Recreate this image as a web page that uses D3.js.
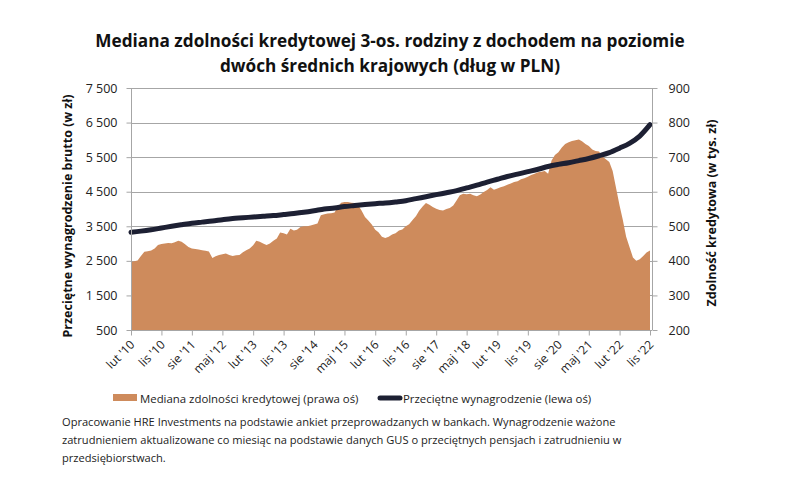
<!DOCTYPE html>
<html>
<head>
<meta charset="utf-8">
<script src="https://cdn.jsdelivr.net/npm/d3@7"></script>
<style>
    body { margin: 0; background: #fff; }
    text { font-family: "Open Sans", "Noto Sans", sans-serif; }
</style>
</head>
<body>
<div id="chart"></div>
<script>
//monthly data starts in February 2010
var startMonth = new Date(2010, 1, 1);

//median credit capacity, thousands PLN (right axis), monthly
var capacity = [
    397, 399, 401, 414, 426, 428, 430, 436, 446, 449,
    450, 452, 451, 454, 458, 455, 448, 440, 436, 434,
    433, 431, 429, 427, 408, 413, 417, 419, 421, 417,
    414, 416, 417, 425, 431, 436, 445, 458, 455, 450,
    446, 450, 458, 465, 482, 480, 476, 493, 488, 490,
    498, 500, 500, 502, 505, 508, 532, 535, 537, 538,
    540, 556, 568, 570, 570, 568, 567, 561, 546, 527,
    517, 505, 490, 483, 470, 466, 470, 476, 480, 488,
    491, 500, 506, 518, 530, 545, 557, 567, 562, 556,
    551, 547, 546, 550, 553, 560, 575, 590, 594, 593,
    594, 590, 587, 592, 599, 605, 613, 606, 609, 613,
    616, 620, 624, 628, 630, 636, 639, 643, 648, 652,
    656, 658, 660, 652, 690, 706, 714, 728, 738, 743,
    747, 749, 751, 746, 738, 732, 722, 718, 716, 702,
    694, 686, 660, 610, 560, 520, 470, 440, 410, 400,
    405, 414, 424, 430
];

//average gross wage, PLN (left axis), read every 3 months
var wageMonths = [
    0, 3, 6, 9, 12, 15, 18, 21, 24, 27, 30, 33, 36, 39, 42, 45, 48, 51,
    54, 57, 60, 63, 66, 69, 72, 75, 78, 81, 84, 87, 90, 93, 96, 99, 102, 105,
    108, 111, 114, 117, 120, 123, 126, 129, 132, 135, 138, 141, 144, 147, 150, 153
];
var wage = [
    3330, 3360, 3400, 3450, 3500, 3545, 3590, 3620, 3650, 3690, 3725, 3745,
    3770, 3790, 3810, 3840, 3870, 3905, 3950, 4000, 4030, 4070, 4100, 4130,
    4155, 4175, 4205, 4240, 4300, 4355, 4415, 4470, 4530, 4610, 4690, 4780,
    4860, 4940, 5010, 5080, 5150, 5230, 5290, 5340, 5400, 5460, 5540, 5630,
    5760, 5900, 6110, 6440
];

//x tick labels (every 9 months)
var tickLabels = ["lut '10", "lis '10", "sie '11", "maj '12", "lut '13", "lis '13",
    "sie '14", "maj '15", "lut '16", "lis '16", "sie '17", "maj '18", "lut '19",
    "lis '19", "sie '20", "maj '21", "lut '22", "lis '22"];

var leftTicks = [500, 1500, 2500, 3500, 4500, 5500, 6500, 7500];
var rightTicks = [200, 300, 400, 500, 600, 700, 800, 900];

var titleLines = ["Mediana zdolności kredytowej 3-os. rodziny z dochodem na poziomie",
    "dwóch średnich krajowych (dług w PLN)"];
var noteLines = [
    "Opracowanie HRE Investments na podstawie ankiet przeprowadzanych w bankach. Wynagrodzenie ważone",
    "zatrudnieniem aktualizowane co miesiąc na podstawie danych GUS o przeciętnych pensjach i zatrudnieniu w",
    "przedsiębiorstwach."
];

//svg and plot dimensions
var svgWidth = 796;
var svgHeight = 481;
var plot = { left: 131, right: 652, top: 88, bottom: 330 };

var svg = d3.select("#chart").append("svg")
    .attr("width", svgWidth)
    .attr("height", svgHeight);

function monthDate(i) {
    return d3.timeMonth.offset(startMonth, i);
}

//scales
var xScale = d3.scaleTime()
    .domain([monthDate(0), monthDate(capacity.length - 1)])
    .range([plot.left, plot.right - 2]);

var yLeft = d3.scaleLinear().domain([500, 7500]).range([plot.bottom, plot.top]);
var yRight = d3.scaleLinear().domain([200, 900]).range([plot.bottom, plot.top]);

//title
svg.append("g").selectAll("text")
    .data(titleLines)
    .enter()
    .append("text")
    .attr("x", 390)
    .attr("y", (d, i) => 47 + i * 25)
    .attr("text-anchor", "middle")
    .attr("font-size", "17.2px")
    .attr("font-weight", "bold")
    .attr("fill", "#111")
    .text(d => d);

//gridlines
svg.append("g").selectAll("line")
    .data(leftTicks)
    .enter()
    .append("line")
    .attr("x1", plot.left)
    .attr("x2", plot.right)
    .attr("y1", d => Math.round(yLeft(d)) + 0.5)
    .attr("y2", d => Math.round(yLeft(d)) + 0.5)
    .attr("stroke", "#a6a6a6")
    .attr("stroke-width", 1);

//area for credit capacity
var area = d3.area()
    .x((d, i) => xScale(monthDate(i)))
    .y0(yRight(200))
    .y1(d => yRight(d));

svg.append("path")
    .datum(capacity)
    .attr("d", area)
    .attr("fill", "#ce8b5c");

//wage line
var line = d3.line()
    .curve(d3.curveMonotoneX)
    .x((d, i) => xScale(monthDate(wageMonths[i])))
    .y(d => yLeft(d));

svg.append("path")
    .datum(wage)
    .attr("d", line)
    .attr("fill", "none")
    .attr("stroke", "#1d2033")
    .attr("stroke-width", 5)
    .attr("stroke-linecap", "round");

//left axis
var leftAxis = d3.axisLeft(yLeft)
    .tickValues(leftTicks)
    .tickSize(5)
    .tickPadding(9)
    .tickFormat(d => d3.format(",")(d).replace(",", " "));

var gLeft = svg.append("g")
    .attr("transform", `translate(${plot.left + 0.5}, 0)`)
    .call(leftAxis);

//right axis
var rightAxis = d3.axisRight(yRight)
    .tickValues(rightTicks)
    .tickSize(5)
    .tickPadding(11);

var gRight = svg.append("g")
    .attr("transform", `translate(${plot.right + 0.5}, 0)`)
    .call(rightAxis);

//bottom axis
var tickDates = tickLabels.map((d, i) => monthDate(i * 9));
var bottomAxis = d3.axisBottom(xScale)
    .tickValues(tickDates)
    .tickSize(5)
    .tickFormat((d, i) => tickLabels[i]);

var gBottom = svg.append("g")
    .attr("transform", `translate(0, ${plot.bottom + 0.5})`)
    .call(bottomAxis);

//style all axes
[gLeft, gRight, gBottom].forEach(function(g) {
    g.select(".domain").attr("stroke", "#a6a6a6");
    g.selectAll(".tick line").attr("stroke", "#a6a6a6");
    g.selectAll("text")
        .attr("font-family", "'Open Sans', sans-serif")
        .attr("font-size", "12.5px")
        .attr("fill", "#222");
});
gLeft.select(".domain").attr("d", `M0,${plot.top}V${plot.bottom}`);
gRight.select(".domain").attr("d", `M0,${plot.top}V${plot.bottom}`);
gBottom.select(".domain").attr("d", `M${plot.left},0H${plot.right}`);

//rotated month labels, ending just under each tick
gBottom.selectAll("text")
    .attr("text-anchor", "end")
    .attr("x", 0)
    .attr("y", 0)
    .attr("dy", "0.35em")
    .attr("font-size", "12px")
    .attr("transform", "translate(1, 12) rotate(-45)");

//axis titles
svg.append("text")
    .attr("transform", "translate(72, 216) rotate(-90)")
    .attr("text-anchor", "middle")
    .attr("font-size", "12.5px")
    .attr("font-weight", "bold")
    .attr("fill", "#111")
    .text("Przeciętne wynagrodzenie brutto (w zł)");

svg.append("text")
    .attr("transform", "translate(716, 213) rotate(-90)")
    .attr("text-anchor", "middle")
    .attr("font-size", "12.5px")
    .attr("font-weight", "bold")
    .attr("fill", "#111")
    .text("Zdolność kredytowa (w tys. zł)");

//legend
var legend = svg.append("g").attr("transform", "translate(0, 398)");

legend.append("rect")
    .attr("x", 113)
    .attr("y", -4)
    .attr("width", 24)
    .attr("height", 7)
    .attr("fill", "#ce8b5c");

legend.append("text")
    .attr("x", 140)
    .attr("y", 4.5)
    .attr("font-size", "11.4px")
    .attr("fill", "#222")
    .text("Mediana zdolności kredytowej (prawa oś)");

legend.append("line")
    .attr("x1", 380)
    .attr("x2", 400)
    .attr("y1", 0)
    .attr("y2", 0)
    .attr("stroke", "#1d2033")
    .attr("stroke-width", 5)
    .attr("stroke-linecap", "round");

legend.append("text")
    .attr("x", 403)
    .attr("y", 4.5)
    .attr("font-size", "11.4px")
    .attr("fill", "#222")
    .text("Przeciętne wynagrodzenie (lewa oś)");

//footnote
svg.append("g").selectAll("text")
    .data(noteLines)
    .enter()
    .append("text")
    .attr("x", 62)
    .attr("y", (d, i) => 426 + i * 18)
    .attr("font-size", "11.1px")
    .attr("fill", "#222")
    .text(d => d);
</script>
</body>
</html>
